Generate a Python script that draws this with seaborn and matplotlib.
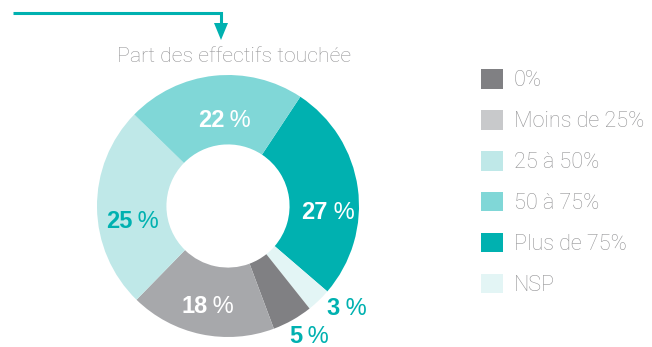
import matplotlib
matplotlib.use("Agg")
import matplotlib.pyplot as plt
from matplotlib.patches import Patch, Polygon
import numpy as np
import seaborn as sns

# Share of staff affected, clockwise from the upper-right boundary
categories = ["Plus de 75%", "NSP", "0%", "Moins de 25%", "25 à 50%", "50 à 75%"]
values = [27, 3, 5, 18, 25, 22]
slice_colors = ["#00b1b0", "#e3f5f5", "#808083", "#a7a8ab", "#bfe8e8", "#80d7d7"]
label_colors = ["white", "#00b1b0", "#00b1b0", "white", "#00b1b0", "white"]
label_outside = [False, True, True, False, False, False]
# hand-placed nudges (px, right / down) for the percentage labels
label_nudge = [(5, 18), (13, -10), (6, -5), (0, 4), (1, 12), (7, 8)]

legend_order = ["0%", "Moins de 25%", "25 à 50%", "50 à 75%", "Plus de 75%", "NSP"]
legend_colors = ["#808083", "#c8c9cb", "#bfe8e8", "#80d7d7", "#00b1b0", "#e3f5f5"]

title = "Part des effectifs touchée"

sns.set_theme(style="white")
plt.rcParams["font.family"] = ["Liberation Sans", "DejaVu Sans"]
light_font = ["Roboto", "Liberation Sans", "DejaVu Sans"]
grey_text = "#939395"

W, H = 652, 347
fig = plt.figure(figsize=(W / 100, H / 100), dpi=100)
ax = fig.add_axes([0, 0, 1, 1])

cx, cy, R = 228, H - 206, 131
ring = 0.53
start = 56.5

ax.pie(values, colors=slice_colors, startangle=start, counterclock=False,
       center=(cx, cy), radius=R, wedgeprops=dict(width=R * ring, linewidth=0),
       frame=True)
ax.set_xlim(0, W)
ax.set_ylim(0, H)
ax.set_aspect("equal")
ax.axis("off")

renderer = fig.canvas.get_renderer()

# Percentage labels at each wedge's mid-angle: bold number, lighter percent sign
total = float(sum(values))
acc = 0.0
fs = 17
cap = 0.72 * fs * 100 / 72
for v, col, out, (dx, dy) in zip(values, label_colors, label_outside, label_nudge):
    mid = start - (acc + v / 2) / total * 360
    acc += v
    r = R * (1.17 if out else 0.735)
    x = cx + r * np.cos(np.radians(mid)) + dx
    y = cy + r * np.sin(np.radians(mid)) - dy - cap / 2
    num = ax.text(x, y, f"{v}", color=col, fontsize=fs, fontweight="bold",
                  ha="left", va="baseline")
    pct = ax.text(x, y, " %", color=col, fontsize=fs, fontweight="normal",
                  ha="left", va="baseline")
    w1 = num.get_window_extent(renderer).width
    w2 = pct.get_window_extent(renderer).width
    left = x - (w1 + w2) / 2
    num.set_x(left)
    pct.set_x(left + w1 - 1)

ax.text(234, H - 56, title, color=grey_text, fontsize=15.3, ha="center", va="center",
        family=light_font, fontweight="light")

# Arrow pointing down to the chart title
ax.plot([13, 221, 221], [H - 13, H - 13, H - 24], color="#00b1b0", lw=2.2,
        solid_joinstyle="miter", solid_capstyle="butt")
ax.add_patch(Polygon([[214, H - 23], [228, H - 23], [221, H - 40]], closed=True,
                     color="#00b1b0", lw=0))

handles = [Patch(facecolor=c, edgecolor="none") for c in legend_colors]
leg = ax.legend(handles, legend_order, loc="upper left",
                bbox_to_anchor=(466 / W, 1 - 54 / H), frameon=False,
                prop=dict(family=light_font, weight="light", size=15.6),
                handlelength=1.02, handleheight=1.02,
                handletextpad=0.48, labelspacing=0.86, borderpad=0.2)
for t in leg.get_texts():
    t.set_color(grey_text)

fig.savefig("out.png", dpi=100)
